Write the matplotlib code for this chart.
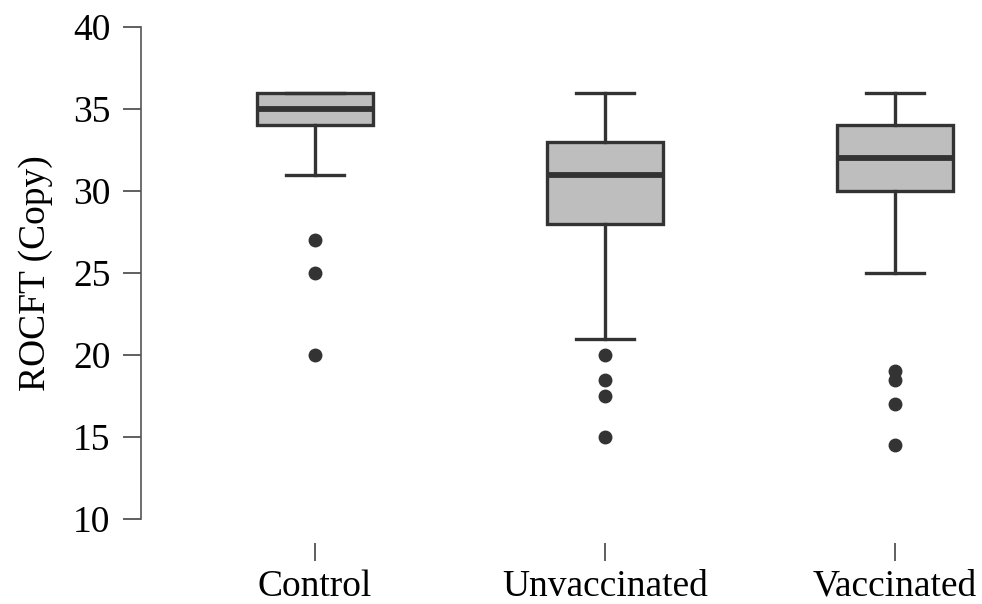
import matplotlib.pyplot as plt

groups = ['Control', 'Unvaccinated', 'Vaccinated']
q1 = [34, 28, 30]
med = [35, 31, 32]
q3 = [36, 33, 34]
whislo = [31, 21, 25]
whishi = [36, 36, 36]
fliers = [
    [27, 25, 20],
    [20, 18.5, 17.5, 15],
    [19, 18.5, 17, 14.5],
]
yticks = [10, 15, 20, 25, 30, 35, 40]

plt.rcParams['font.family'] = ['Liberation Serif', 'DejaVu Serif']
plt.rcParams['font.size'] = 27

fig = plt.figure(figsize=(9.82, 6.04), dpi=100)
ax = fig.add_axes([141 / 982, 1 - 519 / 604, 841 / 982, 492 / 604])

stats = []
for i, g in enumerate(groups):
    stats.append(dict(label=g, q1=q1[i], med=med[i], q3=q3[i],
                      whislo=whislo[i], whishi=whishi[i], fliers=fliers[i]))

dark = '#333333'
ax.bxp(stats, positions=[1, 2, 3], widths=0.4, patch_artist=True,
       showfliers=True,
       boxprops=dict(facecolor='#bebebe', edgecolor=dark, linewidth=2.4),
       medianprops=dict(color=dark, linewidth=4.2),
       whiskerprops=dict(color=dark, linewidth=2.4),
       capprops=dict(color=dark, linewidth=2.4),
       capwidths=0.2,
       flierprops=dict(marker='o', markerfacecolor=dark, markeredgecolor=dark,
                       markersize=9, linestyle='none'))

ax.set_xlim(0.4, 3.3)
ax.set_ylim(10, 40)
ax.set_yticks(yticks)
ax.set_ylabel('ROCFT (Copy)', labelpad=14)

for s in ['top', 'right']:
    ax.spines[s].set_visible(False)
ax.spines['bottom'].set_position(('outward', 17.3))
ax.spines['bottom'].set_visible(False)
ax.spines['left'].set_color('#555555')
ax.spines['left'].set_linewidth(1.2)

ax.tick_params(axis='y', length=13, width=1.2, color='#444444', pad=9)
ax.tick_params(axis='x', length=13, width=1.2, color='#444444', pad=6)

fig.savefig('out.png', dpi=100)
